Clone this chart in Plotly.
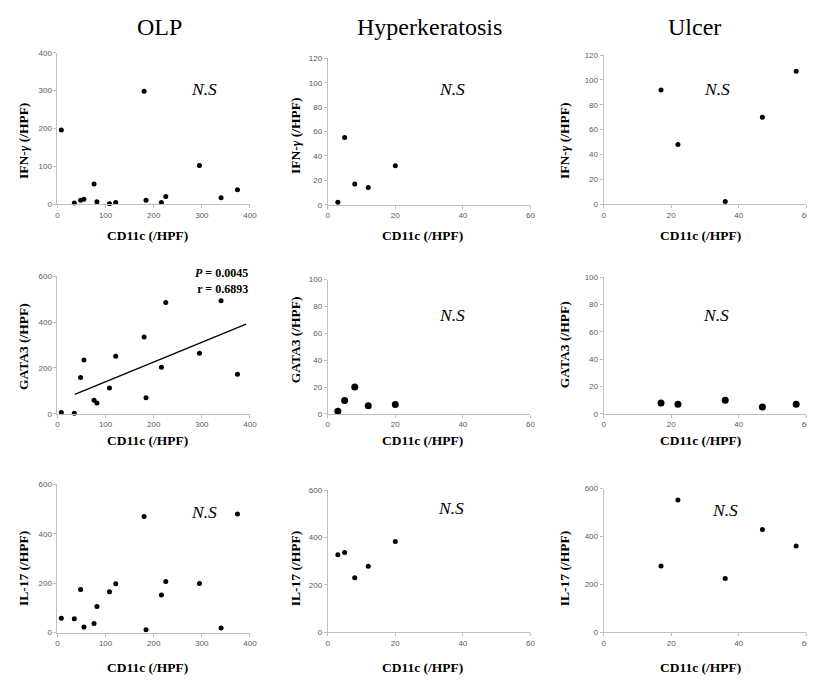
import plotly.graph_objects as go

# ---------------- data ----------------
olp_cd11c = [8, 35, 48, 55, 76, 82, 108, 121, 180, 184, 216, 225, 295, 340, 374]
olp_ifng = [196, 3, 10, 13, 53, 6, 1, 4, 298, 10, 4, 20, 102, 17, 38]
olp_gata3 = [6, 3, 158, 235, 59, 47, 113, 251, 335, 70, 203, 485, 264, 493, 173]
olp_il17 = [58, 56, 174, 23, 37, 106, 165, 198, 470, 11, 152, 207, 199, 19, 480]

hk_cd11c = [3, 5, 8, 12, 20]
hk_ifng = [2, 55, 17, 14, 32]
hk_gata3 = [2, 10, 20, 6, 7]
hk_il17 = [328, 337, 230, 279, 383]

ul_cd11c = [17, 22, 36, 47, 57]
ul_ifng = [92, 48, 2, 70, 107]
ul_gata3 = [8, 7, 10, 5, 7]
ul_il17 = [277, 552, 225, 429, 360]

trend_x = [36, 392]
trend_y = [85, 391]

col_titles = ["OLP", "Hyperkeratosis", "Ulcer"]
row_titles = ["<b>IFN-<i>γ</i> (/HPF)</b>", "<b>GATA3 (/HPF)</b>", "<b>IL-17 (/HPF)</b>"]
x_title = "<b>CD11c (/HPF)</b>"
stats_text = "<b><i>P</i> = 0.0045</b><br><b>r = 0.6893</b>"

# ---------------- layout helpers ----------------
# the page body keeps its default 8px margin, so the figure is drawn 8px in
OFF = 8
W, H = 815 - OFF, 681 - OFF
def fx(px):
    return (px - OFF) / W
def fy(py):
    return 1 - (py - OFF) / H

col_px = [(56, 250.7), (329.3, 534.3), (608.3, 813.3)]
row_px = [
    [(49.3, 202.7), (55, 203.3), (51.7, 202.7)],
    [(275.7, 415.3), (279.3, 415.3), (276.7, 415.3)],
    [(486.7, 637), (492.7, 636.7), (491, 636.7)],
]
x_ranges = [(0, 400, 100), (0, 60, 20), (0, 60, 20)]
y_ranges = [
    [(0, 400, 100), (0, 120, 20), (0, 120, 20)],
    [(0, 600, 200), (0, 100, 20), (0, 100, 20)],
    [(0, 600, 200), (0, 600, 200), (0, 600, 200)],
]

panels = [
    [(olp_cd11c, olp_ifng), (hk_cd11c, hk_ifng), (ul_cd11c, ul_ifng)],
    [(olp_cd11c, olp_gata3), (hk_cd11c, hk_gata3), (ul_cd11c, ul_gata3)],
    [(olp_cd11c, olp_il17), (hk_cd11c, hk_il17), (ul_cd11c, ul_il17)],
]
marker_sizes = [[5, 5, 5], [5, 7, 7], [5, 5, 5]]

fig = go.Figure()
layout = dict(
    width=W, height=H,
    margin=dict(l=0, r=0, t=0, b=0),
    paper_bgcolor="white", plot_bgcolor="white",
    showlegend=False,
)

axis_color = "#bfbfbf"
tick_font = dict(family="Liberation Sans, Arial, sans-serif", size=8, color="#595959")

k = 0
for r in range(3):
    for c in range(3):
        k += 1
        xs, ys = panels[r][c]
        xname = "x" if k == 1 else f"x{k}"
        yname = "y" if k == 1 else f"y{k}"
        fig.add_trace(go.Scatter(
            x=xs, y=ys, mode="markers",
            marker=dict(color="black", size=marker_sizes[r][c]),
            xaxis=xname, yaxis=yname, cliponaxis=False,
        ))
        x0, x1 = col_px[c]
        yt, yb = row_px[r][c]
        xr = x_ranges[c]
        yr = y_ranges[r][c]
        layout["xaxis" if k == 1 else f"xaxis{k}"] = dict(
            domain=[fx(x0), min(fx(x1), 1.0)], anchor=yname,
            range=[xr[0], xr[1]], dtick=xr[2], tick0=0,
            showgrid=False, zeroline=False, showline=True,
            linecolor=axis_color, linewidth=1,
            ticks="outside", ticklen=3, tickcolor=axis_color,
            tickfont=tick_font, ticklabeloverflow="allow",
        )
        layout["yaxis" if k == 1 else f"yaxis{k}"] = dict(
            domain=[fy(yb), fy(yt)], anchor=xname,
            range=[yr[0], yr[1]], dtick=yr[2], tick0=0,
            showgrid=False, zeroline=False, showline=True,
            linecolor=axis_color, linewidth=1,
            ticks="outside", ticklen=3, tickcolor=axis_color,
            tickfont=tick_font,
        )

# regression line in OLP / GATA3 panel (subplot 4)
fig.add_trace(go.Scatter(
    x=trend_x, y=trend_y, mode="lines",
    line=dict(color="black", width=1.3),
    xaxis="x4", yaxis="y4",
))

fig.update_layout(**layout)

serif = "Liberation Serif, Times New Roman, serif"
annotations = []

# column headers
header_x = [159.5, 432.5, 700]
for c in range(3):
    annotations.append(dict(
        text=col_titles[c], x=fx(header_x[c]), y=fy(23),
        xref="paper", yref="paper", showarrow=False,
        xanchor="center", yanchor="middle",
        font=dict(family=serif, size=24, color="black"),
    ))

# y titles
ytitle_x = [21, 297, 569]
ytitle_y = [[138, 133, 138], [346.7, 340, 345], [571.7, 572, 572]]
for r in range(3):
    for c in range(3):
        annotations.append(dict(
            text=row_titles[r], x=fx(ytitle_x[c]), y=fy(ytitle_y[r][c]),
            xref="paper", yref="paper", showarrow=False, textangle=-90,
            xanchor="center", yanchor="middle",
            font=dict(family=serif, size=13.5, color="black"),
        ))

# x titles
xtitle_x = [147, 425, 706]
xtitle_y = [235, 442.7, 672.5]
for r in range(3):
    for c in range(3):
        annotations.append(dict(
            text=x_title, x=fx(xtitle_x[c]), y=fy(xtitle_y[r]),
            xref="paper", yref="paper", showarrow=False,
            xanchor="center", yanchor="middle",
            font=dict(family=serif, size=13.5, color="black"),
        ))

# N.S labels
ns_pos = [
    (204.5, 86), (455, 86), (722.5, 86),
    None, (455, 315), (722, 315),
    (204.5, 515), (454, 511), (731, 513),
]
for p in ns_pos:
    if p is None:
        continue
    annotations.append(dict(
        text="<i>N.S</i>", x=fx(p[0]), y=fy(p[1]),
        xref="paper", yref="paper", showarrow=False,
        xanchor="center", yanchor="middle",
        font=dict(family=serif, size=17.5, color="black"),
    ))

# statistics label
annotations.append(dict(
    text=stats_text, x=fx(251), y=fy(280.5),
    xref="paper", yref="paper", showarrow=False, align="right",
    xanchor="right", yanchor="middle",
    font=dict(family=serif, size=12, color="black"),
))

fig.update_layout(annotations=annotations)
fig.write_html("out.html")
